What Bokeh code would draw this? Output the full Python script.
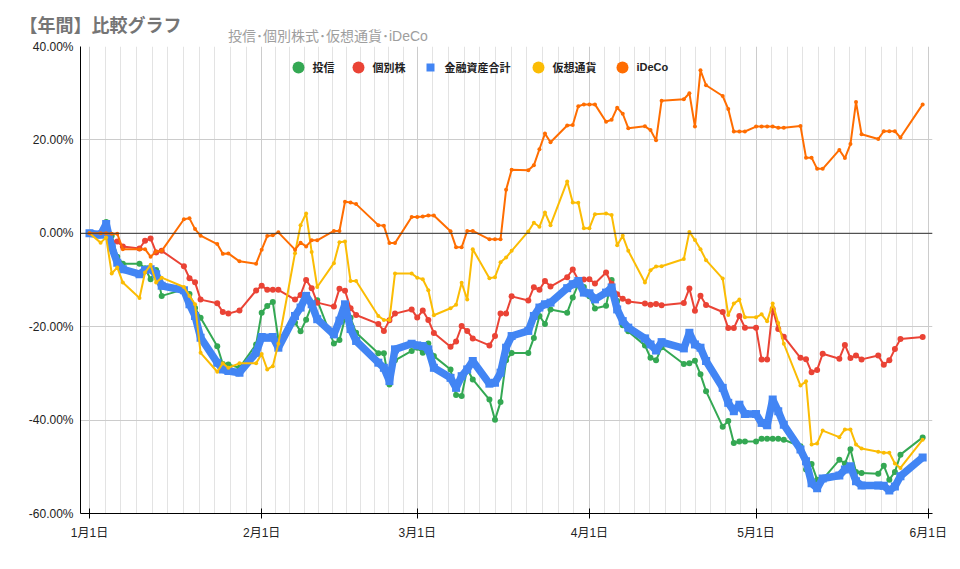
"""Yearly comparison chart of asset returns."""
from bokeh.embed import file_html
from bokeh.models import FixedTicker, Label, Legend, LegendItem, Range1d, Span
from bokeh.plotting import figure
from bokeh.resources import INLINE

FONT = '"Liberation Sans", "Noto Sans CJK JP"'

# days since 1 Jan
days = [
    0, 2, 3, 4, 5, 6, 9, 10, 11, 12, 13,
    17, 18, 19, 20, 23, 24, 25, 27, 30,
    31, 32, 33, 34, 37, 38, 39, 40, 41, 44, 45, 46, 47, 48,
    52, 53, 54, 55, 58, 59, 60, 61, 62,
    65, 66, 67, 68, 69, 72, 73, 74, 75, 76,
    79, 80, 81, 82, 83, 86, 87, 88,
    89, 90, 91, 93, 94, 95, 96, 97,
    100, 101, 102, 103, 107, 108, 109, 110, 111,
    114, 115, 116, 117, 118, 120, 121, 122, 123, 124, 125,
    128, 129, 130, 131, 132, 135, 136, 137, 138, 139,
    142, 143, 144, 145, 146, 150,
]
toushin = [
    0, 0, 2.4, -0.55, -5, -6.5, -6.5, -7.5, -9.85, -7.85, -13.4,
    -12, -13, -16, -18.1, -24.2, -28, -28.1, -28.8, -23.8,
    -17, -15.55, -14.7, -22.6, -19.1, -21, -18.5, -15.5, -14.35, -23.6, -22.85, -18.2, -18.1, -21.3,
    -25.7, -25.7, -32.4, -27.2, -25.2, -24.5, -25.6, -23.6, -26.3,
    -29.15, -34.65, -34.85, -29, -31.3, -35.6, -39.95, -36.15, -27.2, -25.65,
    -25.65, -22.4, -17.7, -19.4, -16.3, -17, -13.75, -10.9,
    -11.5, -13.5, -16.1, -15.5, -10, -14.5, -19.7, -21,
    -24, -26.65, -27.2, -24.4, -28, -27.8, -27.3, -30.2, -33.8,
    -41.4, -40.2, -44.9, -44.6, -44.6, -44.6, -44, -44, -44, -44, -44.2,
    -45.6, -50.6, -49.4, -52.75, -52.7, -48.5, -49.3, -46.25, -51.1, -51.35,
    -51.5, -49.75, -52.75, -51.1, -47.4, -43.7,
]
kobetsu = [
    0, 0, 0, -1.75, -1.75, -2.85, -3.25, -1.6, -1.1, -4.1, -3.75,
    -7.05, -9.6, -10.5, -14.2, -15, -16.85, -17.2, -16.55, -12.25,
    -11.25, -12.1, -12.1, -12.1, -14.2, -13.2, -10, -11.75, -14.85, -15.7, -11.85, -12.3, -16.05, -17.5,
    -19.4, -20.9, -18.6, -17.2, -16.3, -18.05, -16.55, -18.55, -21.35,
    -24.3, -23.15, -19.85, -20.9, -22.5, -24, -22, -17.2, -17.15, -13.5,
    -14.4, -11.55, -12.1, -10.2, -11.4, -9.4, -7.75, -10,
    -9.9, -9.85, -10.75, -8.4, -10.8, -13.05, -14, -14.6,
    -15.05, -15.3, -15.15, -15.4, -14.9, -11.8, -16.6, -13.35, -15.35,
    -16.85, -20.3, -20.3, -17.7, -20.2, -20.2, -27, -27, -16.2, -20.5, -22.15,
    -26.65, -26.95, -29.75, -29.25, -25.8, -26.85, -23.9, -26.7, -26.15, -27,
    -26.15, -28.15, -27.2, -24.8, -22.65, -22.2,
]
goukei = [
    0, -0.3, 2, -3, -6.3, -7.7, -8.75, -7.85, -7.7, -8.75, -11.25,
    -12.2, -15.2, -17.7, -22.35, -27.7, -29.15, -29.5, -29.85, -25.6,
    -22.2, -22.35, -22.2, -24.5, -17.7, -15.9, -13.4, -15.2, -18.4, -21.65, -18.7, -15.2, -20.5, -23.05,
    -27.7, -28.8, -31.65, -24.85, -23.65, -24, -24.15, -24.85, -28.8,
    -30.95, -33.1, -30.6, -29.15, -27.35, -32.2, -32, -29.85, -24.5, -22,
    -20.9, -17.7, -15.9, -15.2, -14.85, -11.75, -10.9, -10.2,
    -12.7, -12.85, -14.15, -12.7, -11.6, -16.3, -18.8, -20.2,
    -22.5, -23.8, -25.1, -23.3, -24.65, -21.3, -23.8, -24.5, -27.35,
    -33.1, -36.3, -38.1, -36.7, -38.7, -38.7, -40.6, -41.1, -35.6, -38.1, -41,
    -46.3, -48.8, -53.5, -54.6, -52.5, -51.85, -50.6, -49.9, -53.1, -54,
    -54, -54.05, -55.1, -54.2, -52, -48,
]
kasou = [
    0, -2, -0.9, -8.6, -7.3, -10.55, -13.85, -8.4, -6.75, -10.55, -9.5,
    -11.5, -13.4, -15.2, -25.6, -29.65, -27.85, -28.8, -27.85, -27.8,
    -25.85, -29.15, -28.45, -23.65, -4.25, 1.75, 4.25, -4, -11.5, -6.4, -1.9, -1.75, -10.2, -10.2,
    -17.7, -18.55, -18.55, -8.6, -8.6, -9.5, -9.85, -12.2, -17.55,
    -16.05, -15.3, -10.6, -14.2, -3.4, -9.6, -9.4, -6.2, -5.2, -3.75,
    0.4, 2.25, 1.4, 4.45, 1.75, 11.1, 6.6, 6.55,
    1.1, 1.1, 4.1, 4.25, 3.9, -2.55, -0.55, -3.75,
    -10.55, -7.9, -7.1, -7.05, -5.5, 0.3, -1.45, -3.4, -5.75,
    -9.7, -17.5, -15.05, -14.2, -18, -18, -17.35, -18.85, -15.05, -19.2, -23.65,
    -32.6, -31.7, -45.25, -45, -42.25, -43.65, -42, -42, -45.25, -46.1,
    -46.8, -47, -47, -49.3, -50.25, -44.2,
]
ideco = [
    0, 0, 0, -0.1, -0.1, -3.4, -3.4, -3.4, -5, -3.9, -3.75,
    3, 3.2, 0.9, -0.5, -2.3, -4.4, -4.3, -6, -6.5,
    -3.5, -0.6, -0.4, 0.2, -3.5, -2, -2.8, -1.5, -1.5, 0.5, 0.5, 6.76, 6.6, 6.25,
    1.75, 1.6, -2.1, -2.1, 3.5, 3.5, 3.6, 3.8, 3.8,
    0.45, -3, -3, 0.5, 0.5, -1.3, -1.3, -1.3, 9.3, 13.6,
    13.5, 14.55, 18, 21.35, 19.5, 23.1, 23.2, 27.2,
    27.6, 27.6, 27.6, 23.9, 24.3, 26.9, 25.6, 22.5,
    22.9, 22.1, 19.9, 28.4, 28.7, 30, 22.85, 34.9, 31.7,
    29.4, 26.6, 21.8, 21.8, 21.8, 22.85, 22.85, 22.85, 22.85, 22.6, 22.6,
    23, 16.2, 16.2, 13.8, 13.8, 17.85, 16.1, 19.1, 28.1, 21.2,
    20.2, 21.85, 21.85, 21.85, 20.5, 27.6,
]

month_days = [0, 31, 59, 90, 120, 151]
month_labels = ["1月1日", "2月1日", "3月1日", "4月1日", "5月1日", "6月1日"]
pct_ticks = [40, 20, 0, -20, -40, -60]
pct_labels = ["40.00%", "20.00%", "0.00%", "-20.00%", "-40.00%", "-60.00%"]

names = ["投信", "個別株", "金融資産合計", "仮想通貨", "iDeCo"]
series = [toushin, kobetsu, goukei, kasou, ideco]
colors = ["#34a853", "#ea4335", "#4285f4", "#fbbc04", "#ff6d01"]
line_widths = [2, 2, 7.5, 2, 2]
markers = ["circle", "circle", "square", "circle", "circle"]
sizes = [6, 6, 8, 4, 4]

# the gridlines split every month in 11 parts
minor_days = []
for start, end in zip(month_days, month_days[1:]):
    minor_days += [start + (end - start) * i / 11 for i in range(1, 11)]

p = figure(
    width=950, height=560, output_backend="svg", toolbar_location=None,
    x_range=Range1d(-1.62, 151.77), y_range=Range1d(-60, 40),
    min_border_left=80, min_border_right=18, min_border_top=46, min_border_bottom=47,
)
p.outline_line_color = None

p.xaxis.ticker = FixedTicker(ticks=month_days, minor_ticks=minor_days)
p.xaxis.major_label_overrides = dict(zip(month_days, month_labels))
p.xaxis.axis_line_color = "#000000"
p.xaxis.major_tick_line_color = "#000000"
p.xaxis.major_tick_in = 5
p.xaxis.major_tick_out = 5
p.xaxis.minor_tick_line_color = None
p.xaxis.major_label_standoff = 7

p.yaxis.ticker = FixedTicker(ticks=pct_ticks)
p.yaxis.major_label_overrides = dict(zip(pct_ticks, pct_labels))
p.yaxis.axis_line_color = "#000000"
p.yaxis.major_tick_line_color = None
p.yaxis.major_tick_in = 0
p.yaxis.major_tick_out = 0
p.yaxis.minor_tick_line_color = None
p.yaxis.major_label_standoff = 7

for axis in (p.xaxis, p.yaxis):
    axis.major_label_text_font = FONT
    axis.major_label_text_font_size = "12px"
    axis.major_label_text_color = "#222222"

p.xgrid.ticker = p.xaxis[0].ticker
p.xgrid.grid_line_color = "#cccccc"
p.xgrid.minor_grid_line_color = "#e3e3e3"
p.ygrid.ticker = p.yaxis[0].ticker
p.ygrid.grid_line_color = "#cccccc"

p.add_layout(Span(location=0, dimension="width", line_color="#333333", line_width=1))

dots = []
for values, color, width, marker, size in zip(series, colors, line_widths, markers, sizes):
    p.line(days, values, line_color=color, line_width=width)
    dots.append(p.scatter(days, values, marker=marker, size=size, fill_color=color, line_color=color, line_width=0))

# one legend per entry: the swatch size follows the glyph box
legend_x = [202.5, 262.5, 339.5, 442.5, 526.5]
legend_box = [30, 30, 20, 30, 30]
legend_gap = [0, 0, 5, 0, 0]
for name, dot, x, box, gap in zip(names, dots, legend_x, legend_box, legend_gap):
    p.add_layout(Legend(
        items=[LegendItem(label=name, renderers=[dot])],
        location=(x, 446.5 - box / 2),
        orientation="horizontal",
        background_fill_alpha=0, border_line_color=None,
        margin=0, padding=0, spacing=0,
        glyph_width=box, glyph_height=box, label_height=box, label_standoff=gap,
        label_text_font=FONT, label_text_font_style="bold",
        label_text_font_size="11px", label_text_color="#222222",
    ))

# each label sits in its own stacked panel above the frame, hence the odd y values
p.add_layout(Label(
    x=-61, y=21, x_units="screen", y_units="screen", text="【年間】比較グラフ",
    text_font=FONT, text_font_style="bold", text_font_size="18px", text_color="#757575",
    text_baseline="alphabetic",
), "above")
p.add_layout(Label(
    x=147.5, y=-9.5, x_units="screen", y_units="screen", text="投信･個別株式･仮想通貨･iDeCo",
    text_font=FONT, text_font_size="14px", text_color="#9e9e9e",
    text_baseline="alphabetic",
), "above")

open("out.html", "w").write(file_html(p, INLINE))
